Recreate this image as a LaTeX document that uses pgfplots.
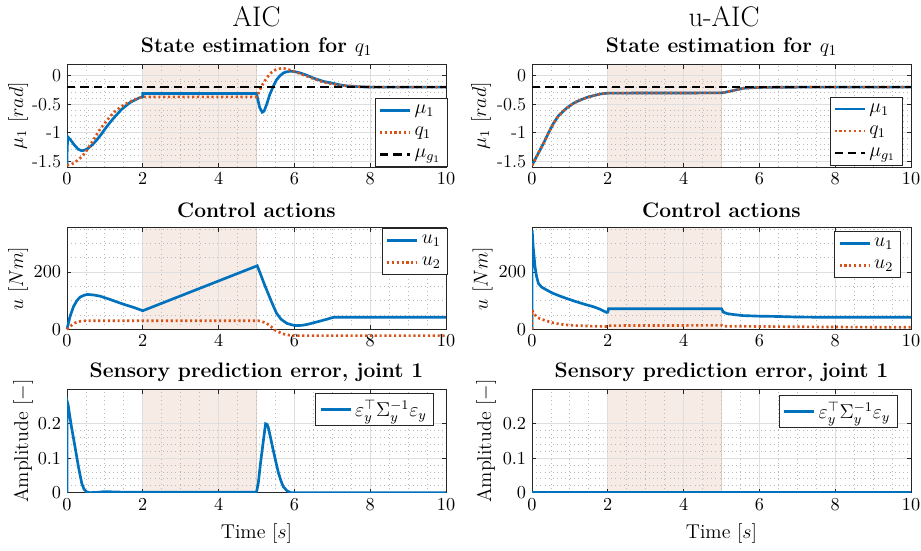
\documentclass[border=0pt]{standalone}
\usepackage{pgfplots}
\pgfplotsset{compat=1.18}
\definecolor{mblue}{rgb}{0,0.447,0.741}
\definecolor{morange}{rgb}{0.850,0.325,0.098}
\definecolor{axgray}{RGB}{38,38,38}
\definecolor{bandfill}{RGB}{247,235,229}
\definecolor{bandedge}{RGB}{228,208,198}
\definecolor{majgrid}{RGB}{222,222,222}
\definecolor{mingrid}{RGB}{185,185,185}

\pgfplotsset{
  panel/.style={
    set layers,
    scale only axis, width=227.4pt, height=61.6pt,
    xmin=0, xmax=10, xtick={0,2,...,10}, minor x tick num=3,
    grid=both,
    major grid style={line width=0.5pt, draw=majgrid},
    minor grid style={line width=0.5pt, draw=mingrid, dotted},
    axis line style={line width=0.5pt, draw=axgray},
    tick style={line width=0.5pt, color=axgray},
    major tick length=2.5pt, minor tick length=0pt,
    tick label style={font=\fontsize{11}{13}\selectfont},
    label style={font=\fontsize{12}{14}\selectfont},
    every axis title shift=0pt,
    title style={font=\bfseries\fontsize{12.6}{14}\selectfont,
      at={(axis description cs:0.5,1)}, anchor=center, yshift=10.2pt},
    legend cell align=left,
    legend style={font=\fontsize{11.5}{13}\selectfont, draw=axgray,
      line width=0.5pt, fill=white, inner xsep=2pt, inner ysep=2pt,
      row sep=2.5pt},
    legend image code/.code={\draw[#1] (0pt,0pt) -- (18pt,0pt);},
  },
  band/.style={forget plot, on layer=axis background, draw=bandedge,
    fill=bandfill, line width=0.5pt},
  ublue/.style={mblue, line width=1.6pt},
  udot/.style={morange, line width=1.6pt, dash pattern=on 1.3pt off 1.6pt},
  udash/.style={black, line width=1.6pt, dash pattern=on 5pt off 3pt},
}

\begin{document}
\begin{tikzpicture}
\node[font=\fontsize{17}{20}\selectfont] at (153.9pt,-9.9pt) {AIC};
\node[font=\fontsize{17}{20}\selectfont] at (434.4pt,-9.9pt) {u-AIC};

% ---------- AIC: state estimation
\begin{axis}[panel, at={(40.2pt,-38.6pt)}, anchor=north west,
  ymin=-1.6, ymax=0.2, ytick={-1.5,-1,-0.5,0}, yticklabels={-1.5,-1,-0.5,0},
  minor y tick num=4,
  title={State estimation for $q_1$},
  ylabel={$\mu_1\ [rad]$},
  ylabel style={at={(axis description cs:-0.129,0.5)}, anchor=center},
  legend style={at={(axis description cs:1.005,0)}, anchor=south east}]
\addplot[band] coordinates {(2,-1.6) (5,-1.6) (5,0.2) (2,0.2)} \closedcycle;
\addplot[ublue] coordinates {
(0,-1.57) (0.005,-1.3) (0.02,-1.07) (0.1,-1.13) (0.2,-1.22) (0.3,-1.29)
(0.39,-1.315) (0.48,-1.30) (0.56,-1.27) (0.67,-1.21) (0.78,-1.13) (0.9,-1.03)
(1.0,-0.935) (1.11,-0.84) (1.22,-0.75) (1.33,-0.67) (1.44,-0.59) (1.55,-0.53)
(1.66,-0.47) (1.78,-0.43) (1.9,-0.39) (2.0,-0.37) (2.0,-0.31) (5.0,-0.31)
(5.03,-0.40) (5.08,-0.55) (5.15,-0.64) (5.2,-0.62) (5.27,-0.50) (5.35,-0.33)
(5.44,-0.19) (5.53,-0.07) (5.62,0.0) (5.71,0.05) (5.8,0.07) (5.9,0.08)
(6.02,0.07) (6.15,0.05) (6.32,0.01) (6.5,-0.04) (6.77,-0.10) (7.0,-0.13)
(7.2,-0.16) (7.4,-0.18) (7.64,-0.19) (8.0,-0.2) (10,-0.2)};
\addlegendentry{$\mu_1$}
\addplot[udot] coordinates {
(0,-1.57) (0.1,-1.555) (0.21,-1.52) (0.3,-1.47) (0.39,-1.42) (0.5,-1.33)
(0.6,-1.23) (0.73,-1.09) (0.86,-0.95) (1.0,-0.83) (1.13,-0.72) (1.26,-0.63)
(1.39,-0.56) (1.56,-0.49) (1.74,-0.43) (1.87,-0.395) (2.0,-0.37) (5.0,-0.37)
(5.03,-0.34) (5.07,-0.28) (5.12,-0.2) (5.18,-0.13) (5.25,-0.06) (5.31,-0.005)
(5.4,0.06) (5.49,0.1) (5.57,0.12) (5.66,0.13) (5.75,0.125) (5.84,0.11)
(6.02,0.07) (6.25,0.01) (6.5,-0.05) (6.75,-0.11) (7.03,-0.15) (7.25,-0.17)
(7.47,-0.18) (7.8,-0.195) (8.2,-0.2) (10,-0.2)};
\addlegendentry{$q_1$}
\addplot[udash] coordinates {(0,-0.2) (10,-0.2)};
\addlegendentry{$\mu_{g_1}$}
\end{axis}

% ---------- AIC: control actions
\begin{axis}[panel, at={(40.2pt,-136.6pt)}, anchor=north west, height=61pt,
  clip=false,
  ymin=0, ymax=355, ytick={0,200}, minor ytick={50,100,150,250,300,350},
  title={Control actions},
  ylabel={$u\ [Nm]$},
  ylabel style={at={(axis description cs:-0.129,0.5)}, anchor=center},
  legend style={at={(axis description cs:1.005,1)}, anchor=north east}]
\addplot[band] coordinates {(2,0) (5,0) (5,355) (2,355)} \closedcycle;
\addplot[ublue] coordinates {
(0,0) (0.08,45) (0.17,79) (0.26,100) (0.34,112) (0.45,119) (0.54,122)
(0.7,120) (0.87,116) (1.1,106) (1.31,96) (1.53,86) (1.75,77) (2.0,65)
(5.02,222) (5.1,195) (5.2,160) (5.27,137) (5.4,95) (5.53,56) (5.65,35)
(5.8,21) (5.95,15) (6.06,13) (6.2,14) (6.33,17) (6.6,26) (6.85,35)
(7.03,42) (10,42)};
\addlegendentry{$u_1$}
\addplot[udot] coordinates {
(0,0) (0.1,12) (0.2,22) (0.3,27) (0.4,29) (0.5,30) (5.05,30) (5.15,27)
(5.27,21) (5.38,10) (5.48,-2) (5.6,-10) (5.7,-16) (5.85,-20) (6.0,-22)
(10,-22)};
\addlegendentry{$u_2$}
\end{axis}

% ---------- AIC: sensory prediction error
\begin{axis}[panel, at={(40.2pt,-233.6pt)}, anchor=north west, height=62pt,
  ymin=0, ymax=0.3, ytick={0,0.1,0.2}, minor y tick num=4,
  title={Sensory prediction error, joint 1},
  ylabel={Amplitude $[-]$},
  ylabel style={at={(axis description cs:-0.116,0.5)}, anchor=center},
  xlabel={Time $[s]$},
  xlabel style={at={(axis description cs:0.5,-0.395)}, anchor=center},
  legend style={at={(axis description cs:0.968,0.964)}, anchor=north east}]
\addplot[band] coordinates {(2,0) (5,0) (5,0.3) (2,0.3)} \closedcycle;
\addplot[ublue] coordinates {
(0,0) (0.005,0.265) (0.03,0.255) (0.07,0.225) (0.12,0.19) (0.21,0.134)
(0.3,0.076) (0.39,0.027) (0.45,0.01) (0.51,0.003) (0.6,0.0) (0.8,0.001)
(1.0,0.003) (1.3,0.002) (1.6,0.001) (2,0.0015) (5.0,0.0015) (5.05,0.03)
(5.1,0.08) (5.18,0.15) (5.24,0.2) (5.28,0.198) (5.31,0.19) (5.37,0.16)
(5.44,0.124) (5.51,0.09) (5.58,0.057) (5.65,0.033) (5.71,0.017) (5.8,0.006)
(5.9,0.0) (10,0.0)};
\addlegendentry{$\varepsilon_y^\top\Sigma_y^{-1}\varepsilon_y$}
\end{axis}

% ---------- u-AIC: state estimation
\begin{axis}[panel, at={(319.2pt,-38.6pt)}, anchor=north west,
  ymin=-1.6, ymax=0.2, ytick={-1.5,-1,-0.5,0}, yticklabels={-1.5,-1,-0.5,0},
  minor y tick num=4,
  title={State estimation for $q_1$},
  ylabel={$\mu_1\ [rad]$},
  ylabel style={at={(axis description cs:-0.134,0.5)}, anchor=center},
  legend style={at={(axis description cs:0.978,0.013)}, anchor=south east}]
\addplot[band] coordinates {(2,-1.6) (5,-1.6) (5,0.2) (2,0.2)} \closedcycle;
\addplot[ublue] coordinates {
(0,-1.57) (0.15,-1.38) (0.3,-1.19) (0.43,-1.01) (0.56,-0.84) (0.7,-0.70)
(0.91,-0.57) (1.1,-0.48) (1.26,-0.43) (1.45,-0.38) (1.62,-0.35) (1.8,-0.32)
(2.0,-0.305) (5.0,-0.3) (5.1,-0.29) (5.3,-0.26) (5.57,-0.22) (5.8,-0.21)
(6.0,-0.205) (7,-0.2) (10,-0.2)};
\addlegendentry{$\mu_1$}
\addplot[udot] coordinates {
(0,-1.57) (0.15,-1.38) (0.3,-1.19) (0.43,-1.01) (0.56,-0.84) (0.7,-0.70)
(0.91,-0.57) (1.1,-0.48) (1.26,-0.43) (1.45,-0.38) (1.62,-0.35) (1.8,-0.32)
(2.0,-0.305) (5.0,-0.3) (5.1,-0.29) (5.3,-0.26) (5.57,-0.22) (5.8,-0.21)
(6.0,-0.205) (7,-0.2) (10,-0.2)};
\addlegendentry{$q_1$}
\addplot[udash] coordinates {(0,-0.2) (10,-0.2)};
\addlegendentry{$\mu_{g_1}$}
\end{axis}

% ---------- u-AIC: control actions
\begin{axis}[panel, at={(319.2pt,-136.6pt)}, anchor=north west, height=61pt,
  ymin=0, ymax=355, ytick={0,200}, minor ytick={50,100,150,250,300,350},
  title={Control actions},
  ylabel={$u\ [Nm]$},
  ylabel style={at={(axis description cs:-0.13,0.5)}, anchor=center},
  legend style={at={(axis description cs:0.972,0.97)}, anchor=north east}]
\addplot[band] coordinates {(2,0) (5,0) (5,355) (2,355)} \closedcycle;
\addplot[ublue] coordinates {
(0,0) (0.005,345) (0.03,290) (0.08,218) (0.12,185) (0.17,160) (0.25,148)
(0.39,137) (0.55,126) (0.74,116) (0.95,106) (1.18,96) (1.4,87) (1.62,79)
(1.8,70) (1.97,59) (2.0,60) (2.02,72) (5.0,72) (5.05,60) (5.15,55) (5.3,52)
(5.57,48) (6.0,46) (6.45,45) (7.0,43) (7.76,42) (10,42)};
\addlegendentry{$u_1$}
\addplot[udot] coordinates {
(0,0) (0.005,67) (0.05,55) (0.12,44) (0.2,38) (0.39,29) (0.55,23) (0.74,18)
(0.95,15) (1.18,13) (1.6,11) (2.0,10) (2.02,13) (5.0,14) (5.03,11) (6,10)
(8,8) (10,7)};
\addlegendentry{$u_2$}
\end{axis}

% ---------- u-AIC: sensory prediction error
\begin{axis}[panel, at={(319.2pt,-233.6pt)}, anchor=north west, height=62pt,
  ymin=0, ymax=0.3, ytick={0,0.1,0.2}, minor y tick num=4,
  title={Sensory prediction error, joint 1},
  ylabel={Amplitude $[-]$},
  ylabel style={at={(axis description cs:-0.121,0.5)}, anchor=center},
  xlabel={Time $[s]$},
  xlabel style={at={(axis description cs:0.5,-0.395)}, anchor=center},
  legend style={at={(axis description cs:0.964,0.945)}, anchor=north east}]
\addplot[band] coordinates {(2,0) (5,0) (5,0.3) (2,0.3)} \closedcycle;
\addplot[ublue] coordinates {(0,0) (10,0)};
\addlegendentry{$\varepsilon_y^\top\Sigma_y^{-1}\varepsilon_y$}
\end{axis}

\pgfresetboundingbox
\useasboundingbox (0pt,0pt) rectangle (552.6pt,-330pt);
\end{tikzpicture}
\end{document}
